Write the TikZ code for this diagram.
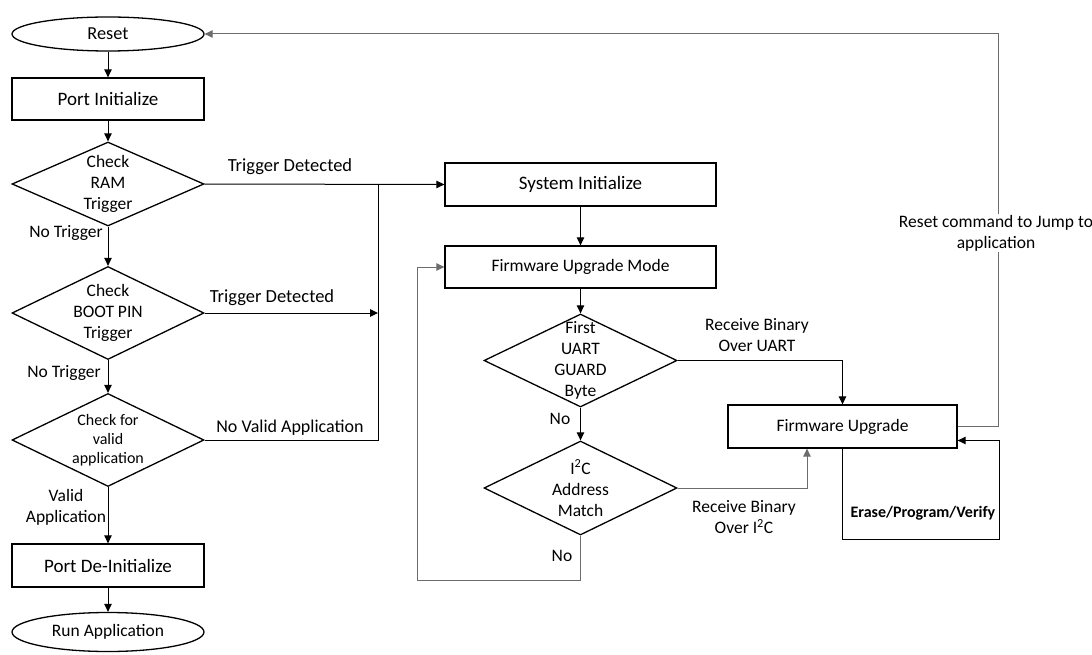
\documentclass[tikz,border=0pt]{standalone}
\usepackage{fontspec}
\setmainfont{Carlito}
\usetikzlibrary{arrows.meta,calc,shapes.geometric}

\begin{document}
\begin{tikzpicture}[x=1pt,y=-1pt,>={Triangle[length=8pt,width=7.5pt]},line join=miter,
    every node/.style={font=\fontsize{17.5}{21}\selectfont},
    big/.style={font=\fontsize{19}{22}\selectfont},
    box/.style={draw,line width=1.3pt,rectangle,minimum width=192pt,minimum height=42pt,inner sep=0pt},
    term/.style={draw,line width=1.3pt,ellipse,minimum width=192pt,minimum height=34pt,inner sep=0pt},
    dec/.style={draw,line width=1.3pt,diamond,minimum width=192pt,minimum height=93pt,inner sep=0pt},
    lbl/.style={align=center,inner sep=1pt},
    wire/.style={line width=1pt,black},
    gwire/.style={line width=1pt,gray!85!black}]
  \useasboundingbox (0,0) rectangle (1092,655);

  \node[term,font=\fontsize{18.3}{22}\selectfont] (reset) at (108,34) {Reset};
  \node[box,big] (pinit) at (108,99) {Port Initialize};
  \node[dec,minimum height=84pt] (ram) at (108,184) {};
  \node[lbl] (ramtxt) at (ram) {Check\\RAM\\Trigger};
  \node[dec] (boot) at (108,313) {};
  \node[lbl] (boottxt) at (boot) {Check\\BOOT PIN\\Trigger};
  \node[dec] (valid) at (108,440) {};
  \node[lbl,font=\fontsize{16}{19}\selectfont] (validtxt) at (valid) {Check for\\valid\\application};
  \node[box,big,minimum height=43pt] (pdeinit) at (108,565.5) {Port De-Initialize};
  \node[term,minimum height=39pt] (run) at (108,632) {Run Application};

  \node[box,big,minimum width=271pt,minimum height=43pt] (sysinit) at (580.5,184.5) {System Initialize};
  \node[box,minimum width=271pt] (fwmode) at (580.5,267) {Firmware Upgrade Mode};
  \node[dec,minimum width=193pt] (uart) at (580.5,360.5) {};
  \node[lbl] (uarttxt) at (uart) {First\\UART\\GUARD\\Byte};
  \node[dec,minimum width=193pt,minimum height=94pt] (i2c) at (580.5,488) {};
  \node[lbl] (i2ctxt) at (i2c) {I\textsuperscript{2}C\\Address\\Match};
  \node[box,minimum width=229pt,minimum height=43pt] (fwup) at (842.5,426.5) {Firmware Upgrade};

  \coordinate (jx) at (378,184);
  \coordinate (loopl) at (417,580);
  \coordinate (rtop) at (998,34);
  \coordinate (selfc) at (999,539);

  \draw[wire,->] (reset) -- (pinit);
  \draw[wire,->] (pinit) -- (ram);
  \draw[wire,->] (ram) -- (boot);
  \draw[wire,->] (boot) -- (valid);
  \draw[wire,->] (valid) -- (pdeinit);
  \draw[wire,->] (pdeinit) -- (run);

  \draw[wire,->] (ram.east) -- (sysinit.west);
  \draw[wire,->] (boot.east) -- (boot.east -| jx);
  \draw[wire] (valid.east) -| (jx);
  \draw[wire,->] (sysinit) -- (fwmode);
  \draw[wire,->] (fwmode) -- (uart);
  \draw[wire,->] (uart) -- (i2c);
  \draw[wire,->] (uart.east) -| (fwup.north);
  \draw[gwire,->] (i2c.east) -| ($(fwup.south)+(-35.5,0)$);
  \draw[gwire,->] (i2c.south) |- (loopl) |- (fwmode.west);
  \draw[gwire,->] (fwup.east) -| (rtop) -- (reset.east);
  \draw[wire,->] (fwup.south) |- (selfc) |- ($(fwup.east)+(0,14)$);

  \node[lbl,font=\fontsize{18.5}{22}\selectfont] (td1) at (290,167) {Trigger Detected};
  \node[lbl] (nt1) at (66,233) {No Trigger};
  \node[lbl,font=\fontsize{18.5}{22}\selectfont] (td2) at (272,298) {Trigger Detected};
  \node[lbl] (nt2) at (64,373) {No Trigger};
  \node[lbl,font=\fontsize{18}{22}\selectfont] (nva) at (290,428) {No Valid Application};
  \node[lbl] (va) at (66,507) {Valid\\Application};
  \node[lbl] (no1) at (560,419) {No};
  \node[lbl] (no2) at (562,556) {No};
  \node[lbl] (rbu) at (757,335) {Receive Binary\\Over UART};
  \node[lbl] (rbi) at (744,517) {Receive Binary\\Over I\textsuperscript{2}C};
  \node[lbl,font=\fontsize{16}{19}\bfseries] (epv) at (923,513) {Erase/Program/Verify};
  \node[lbl,fill=white] (rcmd) at (996,233) {Reset command to Jump to\\application};
\end{tikzpicture}
\end{document}
